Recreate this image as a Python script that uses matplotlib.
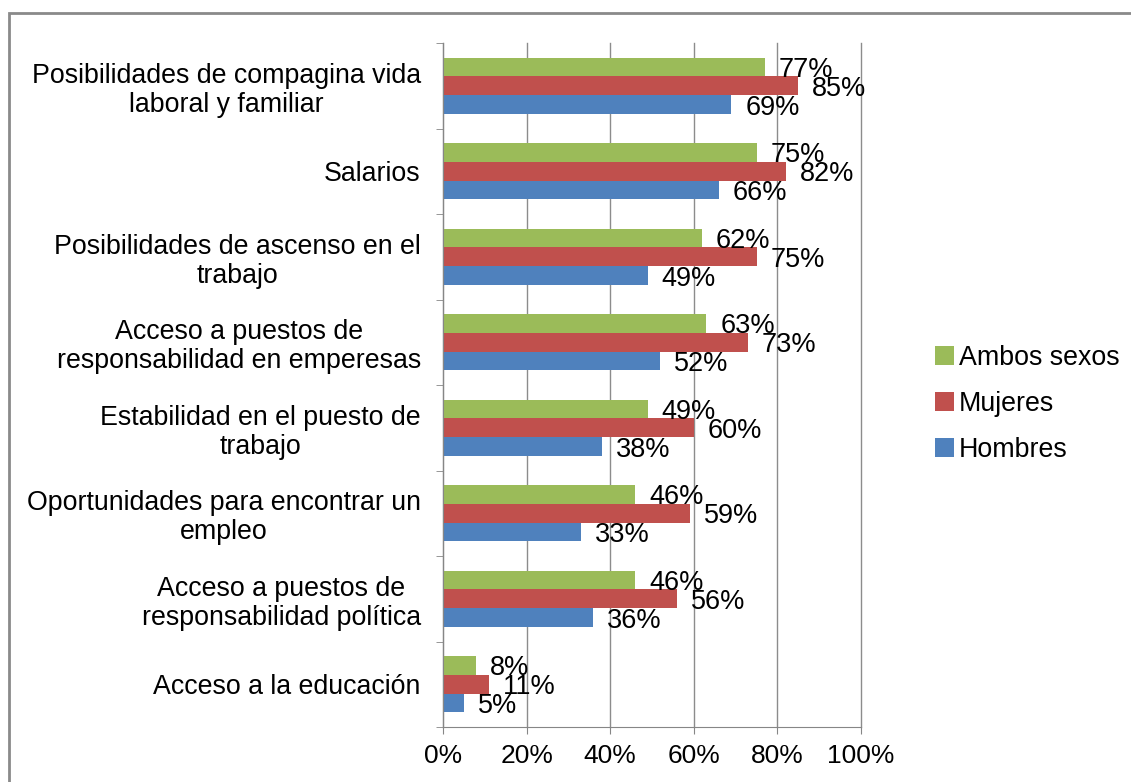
import numpy as np
import matplotlib
matplotlib.use('Agg')
import matplotlib.pyplot as plt
from matplotlib.patches import Rectangle

plt.rcParams['font.family'] = ['Liberation Sans', 'DejaVu Sans']

# Data (top to bottom as shown)
categories = [
    "Posibilidades de compagina vida\nlaboral y familiar",
    "Salarios",
    "Posibilidades de ascenso en el\ntrabajo",
    "Acceso a puestos de\nresponsabilidad en emperesas",
    "Estabilidad en el puesto de\ntrabajo",
    "Oportunidades para encontrar un\nempleo",
    "Acceso a puestos de\nresponsabilidad política",
    "Acceso a la educación",
]
ambos = [77, 75, 62, 63, 49, 46, 46, 8]
mujeres = [85, 82, 75, 73, 60, 59, 56, 11]
hombres = [69, 66, 49, 52, 38, 33, 36, 5]
series_names = ["Ambos sexos", "Mujeres", "Hombres"]
colors = ["#9BBB59", "#C0504D", "#4F81BD"]
xticks = [0, 20, 40, 60, 80, 100]

fig = plt.figure(figsize=(11.31, 7.82), dpi=100)
ax = fig.add_axes([443/1131, 1 - 727/782, (861 - 443)/1131, (727 - 43)/782])

n = len(categories)
y = np.arange(n)[::-1]  # first category at top
h = 0.22
offsets = [h, 0, -h]
for vals, name, col, off in zip([ambos, mujeres, hombres], series_names, colors, offsets):
    bars = ax.barh(y + off, vals, height=h, color=col, label=name, zorder=3)
    for b, v in zip(bars, vals):
        ax.annotate(f"{v}%", (b.get_width(), b.get_y() + b.get_height()/2),
                    xytext=(10, 0), textcoords='offset points',
                    ha='left', va='center_baseline', fontsize=19.5, zorder=4)

ax.set_xlim(0, 100)
ax.set_ylim(-0.5, n - 0.5)
ax.set_xticks(xticks)
ax.set_xticklabels([f"{t}%" for t in xticks], fontsize=19)
ax.set_yticks(y)
ax.set_yticklabels(categories, fontsize=19.3, multialignment='center', linespacing=1.15)
ax.set_yticks(np.arange(-0.5, n), minor=True)
ax.tick_params(axis='y', which='major', length=0, pad=16)
ax.tick_params(axis='y', which='minor', length=5, color='#868686', direction='out')
ax.tick_params(axis='x', length=5, color='#868686', pad=7)
ax.grid(axis='x', color='#8c8c8c', linewidth=1, zorder=0)
for gl in ax.get_xgridlines():
    gl.set_clip_on(False)
for s in ['top', 'right']:
    ax.spines[s].set_visible(False)
for s in ['left', 'bottom']:
    ax.spines[s].set_color('#868686')
    ax.spines[s].set_zorder(5)

fig.legend(loc='center left', bbox_to_anchor=(935/1131, 1 - 404/782),
           frameon=False, fontsize=19.3, handlelength=0.7, handleheight=0.7,
           handletextpad=0.2, labelspacing=0.75, borderpad=0, borderaxespad=0)

fig.patches.append(Rectangle((9/1131, -0.1), 1.2, 1.1 - 13/782, fill=False,
                             edgecolor='#8a8a8a', linewidth=2,
                             transform=fig.transFigure, figure=fig))

fig.savefig('out.png', dpi=100)
